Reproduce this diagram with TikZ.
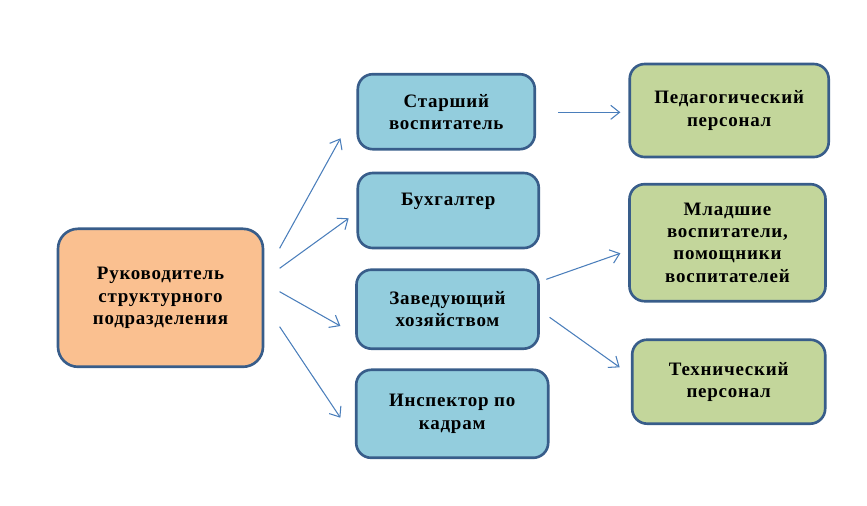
\documentclass[tikz,border=0pt]{standalone}
\usepackage{fontspec}
\setmainfont[LetterSpace=4]{Liberation Serif}
\usepackage{xcolor}
\usepackage{tikz}
\usetikzlibrary{arrows.meta}
\definecolor{boxline}{HTML}{385D8A}
\definecolor{headfill}{HTML}{FAC090}
\definecolor{staffill}{HTML}{93CDDD}
\definecolor{unitfill}{HTML}{C3D69B}
\definecolor{arrline}{HTML}{4A7EBB}

\begin{document}
\begin{tikzpicture}[x=0.02cm,y=-0.02cm]
\tikzstyle{unit}=[draw=boxline, line width=1.5pt, rounded corners=0.3cm, align=center,
  inner sep=0pt, font=\fontsize{10.8}{12.6}\selectfont\bfseries]
\tikzstyle{arr}=[draw=arrline, line width=0.6pt, -{Straight Barb[length=5pt,width=8pt]}]
\useasboundingbox (0,0) rectangle (867,505);

\node[unit, fill=headfill, rounded corners=0.4cm, minimum width=205*0.02cm, minimum height=138*0.02cm] (ruk) at (160.5,297.8) {Руководитель\\структурного\\подразделения};

\node[unit, fill=staffill, minimum width=177*0.02cm, minimum height=75*0.02cm] (st) at (446.3,111.7) {Старший\\воспитатель};
\node[unit, fill=staffill, minimum width=181*0.02cm, minimum height=75*0.02cm] (buh) at (448.3,210.5) {Бухгалтер\\\mbox{}};
\node[unit, fill=staffill, minimum width=182*0.02cm, minimum height=79*0.02cm] (zav) at (447.5,309.2) {Заведующий\\хозяйством};
\node[unit, fill=staffill, minimum width=192*0.02cm, minimum height=88*0.02cm] (insp) at (452.2,413.8) {Инспектор по\\кадрам};

\node[unit, fill=unitfill, minimum width=199*0.02cm, minimum height=93*0.02cm] (ped) at (729.2,110.5) {Педагогический\\персонал};
\node[unit, fill=unitfill, minimum width=196*0.02cm, minimum height=117*0.02cm] (ml) at (727.5,242.7) {Младшие\\воспитатели,\\помощники\\воспитателей};
\node[unit, fill=unitfill, minimum width=193*0.02cm, minimum height=84*0.02cm] (teh) at (728.7,381.7) {Технический\\персонал};

% head -> staff
\path ([shift={(15.3,-49.5)}]ruk.east) edge[arr] ([shift={(-16,26.6)}]st.west);
\path ([shift={(15.3,-29.5)}]ruk.east) edge[arr] ([shift={(-7.8,7.8)}]buh.west);
\path ([shift={(15.3,-6.1)}]ruk.east) edge[arr] ([shift={(-14.8,16.8)}]zav.west);
\path ([shift={(15.3,28.9)}]ruk.east) edge[arr] ([shift={(-14.5,3.9)}]insp.west);

% staff -> units
\path ([shift={(21.9,0.6)}]st.east) edge[arr] ([shift={(-8,1.8)}]ped.west);
\path ([shift={(6.5,-29.9)}]zav.east) edge[arr] ([shift={(-7.8,10.6)}]ml.west);
\path ([shift={(9.8,8.1)}]zav.east) edge[arr] ([shift={(-11.2,-14.4)}]teh.west);
\end{tikzpicture}
\end{document}
